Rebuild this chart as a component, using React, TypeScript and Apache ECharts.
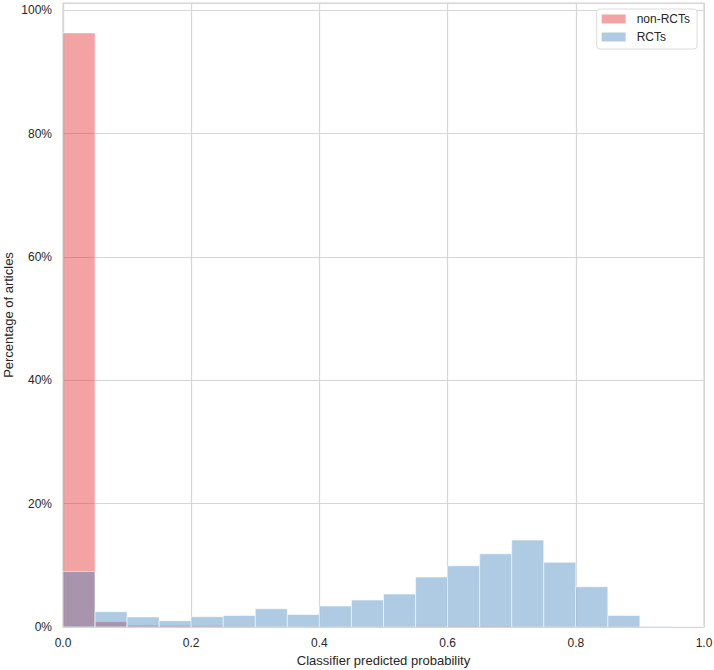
import React, { useEffect, useRef } from "react";
import * as echarts from "echarts";

const binStarts = [0, 0.05, 0.1, 0.15, 0.2, 0.25, 0.3, 0.35, 0.4, 0.45, 0.5, 0.55, 0.6, 0.65, 0.7, 0.75, 0.8, 0.85, 0.9, 0.95];
const binEnds = [0.05, 0.1, 0.15, 0.2, 0.25, 0.3, 0.35, 0.4, 0.45, 0.5, 0.55, 0.6, 0.65, 0.7, 0.75, 0.8, 0.85, 0.9, 0.95, 1.0];
const nonRctPct = [96.35, 0.86, 0.3, 0.25, 0.2, 0.12, 0.06, 0.05, 0.05, 0.05, 0.06, 0.12, 0.15, 0.15, 0.1, 0.06, 0.05, 0.03, 0.02, 0.0];
const rctPct = [9.0, 2.48, 1.62, 1.02, 1.67, 1.88, 2.96, 2.04, 3.4, 4.37, 5.34, 8.1, 9.93, 11.87, 14.09, 10.5, 6.53, 1.88, 0.1, 0.0];
const yTicks = [0, 20, 40, 60, 80, 100];
const seriesNames = ["non-RCTs", "RCTs"];

const RED = "rgba(228,26,28,0.4)";
const BLUE = "rgba(55,126,184,0.4)";
const FONT = "'Liberation Sans', Arial, sans-serif";
const TEXT = "#262626";
const GRIDC = "#d6d6d6";

function histData(vals: number[]) {
  return vals.map((v, i) => [binStarts[i], binEnds[i], v]);
}

function makeRender(color: string) {
  return (params: any, api: any) => {
    const x0 = api.value(0);
    const x1 = api.value(1);
    const y = api.value(2);
    const p0 = api.coord([x0, y]);
    const p1 = api.coord([x1, 0]);
    return {
      type: "rect",
      shape: { x: p0[0], y: p0[1], width: p1[0] - p0[0], height: p1[1] - p0[1] },
      style: { fill: color, stroke: "rgba(255,255,255,0.55)", lineWidth: 1 },
    };
  };
}

export default function App() {
  const ref = useRef<HTMLDivElement>(null);
  useEffect(() => {
    if (!ref.current) return;
    const chart = echarts.init(ref.current, null, { renderer: "svg" });
    chart.setOption({
      animation: false,
      backgroundColor: "#ffffff",
      grid: {
        left: 63,
        right: 10,
        top: 3,
        bottom: 43,
        containLabel: false,
        outerBoundsMode: "none",
        show: true,
        borderColor: GRIDC,
        borderWidth: 1.2,
        backgroundColor: "transparent",
      },
      legend: {
        orient: "vertical",
        right: 17,
        top: 9,
        data: [
          { name: seriesNames[0], itemStyle: { color: RED } },
          { name: seriesNames[1], itemStyle: { color: BLUE } },
        ],
        icon: "rect",
        itemWidth: 24,
        itemHeight: 9,
        itemGap: 4,
        padding: [3, 7, 5, 5],
        borderColor: "#dcdcdc",
        borderWidth: 1,
        borderRadius: 3,
        backgroundColor: "#ffffff",
        textStyle: { fontFamily: FONT, fontSize: 12, color: TEXT, lineHeight: 14, padding: [0, 0, 0, 6] },
      },
      xAxis: {
        type: "value",
        min: 0,
        max: 1,
        interval: 0.2,
        name: "Classifier predicted probability",
        nameLocation: "middle",
        nameGap: 25,
        nameTextStyle: { fontFamily: FONT, fontSize: 13, color: TEXT },
        axisLine: { show: true, lineStyle: { color: GRIDC, width: 1.2 } },
        axisTick: { show: false },
        axisLabel: {
          fontFamily: FONT,
          fontSize: 12,
          color: TEXT,
          margin: 10,
          formatter: (v: number) => v.toFixed(1),
        },
        splitLine: { show: true, lineStyle: { color: GRIDC, width: 1.2 } },
      },
      yAxis: {
        type: "value",
        min: 0,
        max: 101.2,
        interval: 20,
        name: "Percentage of articles",
        nameLocation: "middle",
        nameGap: 48,
        nameMoveOverlap: false,
        nameTextStyle: { fontFamily: FONT, fontSize: 13, color: TEXT },
        axisLine: { show: true, lineStyle: { color: GRIDC, width: 1.2 } },
        axisTick: { show: false },
        axisLabel: {
          fontFamily: FONT,
          fontSize: 12,
          color: TEXT,
          margin: 11,
          formatter: (v: number) => (yTicks.some((t) => Math.abs(t - v) < 1e-6) ? `${v}%` : ""),
        },
        splitLine: { show: true, lineStyle: { color: GRIDC, width: 1.2 } },
      },
      series: [
        {
          name: seriesNames[0],
          type: "custom",
          renderItem: makeRender(RED),
          itemStyle: { color: RED },
          encode: { x: [0, 1], y: 2 },
          data: histData(nonRctPct),
          clip: true,
        },
        {
          name: seriesNames[1],
          type: "custom",
          renderItem: makeRender(BLUE),
          itemStyle: { color: BLUE },
          encode: { x: [0, 1], y: 2 },
          data: histData(rctPct),
          clip: true,
        },
      ],
    });
    return () => chart.dispose();
  }, []);
  return (
    <div
      ref={ref}
      style={{ position: "fixed", left: 0, top: 0, width: 714, height: 670, background: "#fff" }}
    />
  );
}
